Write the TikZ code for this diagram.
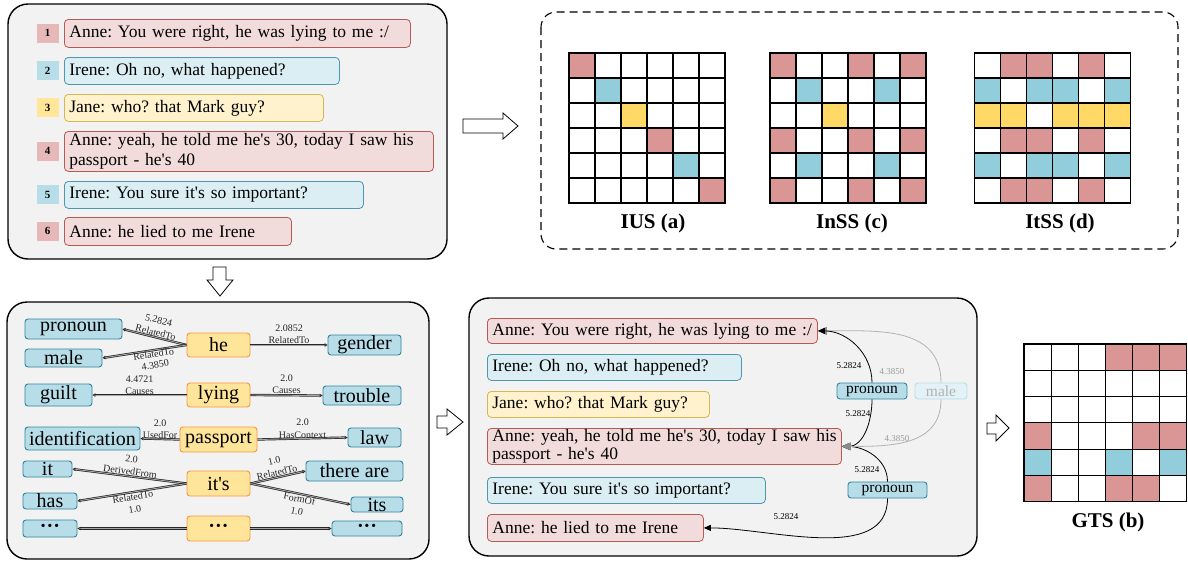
\documentclass[tikz,border=0pt]{standalone}
\usepackage{fontspec}
\setmainfont{Liberation Serif}
\usetikzlibrary{arrows.meta}
\frenchspacing
\definecolor{panelgray}{HTML}{F2F2F2}
\definecolor{mRf}{HTML}{F2DCDB}\definecolor{mRd}{HTML}{B65A56}
\definecolor{mBf}{HTML}{DAEEF3}\definecolor{mBd}{HTML}{4F97AE}
\definecolor{mYf}{HTML}{FFF2CC}\definecolor{mYd}{HTML}{D6B656}
\definecolor{nR}{HTML}{E6B9B8}\definecolor{nB}{HTML}{B7DEE8}\definecolor{nY}{HTML}{FFE699}
\definecolor{gR}{HTML}{D99694}\definecolor{gB}{HTML}{92CDDC}\definecolor{gY}{HTML}{FFD966}\definecolor{gN}{HTML}{FFFFFF}
\definecolor{cF}{HTML}{B7DDE8}\definecolor{cD}{HTML}{31859C}
\definecolor{wF}{HTML}{FFE599}\definecolor{wD}{HTML}{F79646}
\definecolor{fadeF}{HTML}{E3F2F6}\definecolor{fadeD}{HTML}{B7DDE8}
\definecolor{tipgray}{HTML}{8C8C8C}
\newcommand\ap{\textquotesingle}
\newcommand\mygrid[5]{%
 \foreach \row [count=\r from 0] in {#5} {
   \foreach \cell [count=\c from 0] in \row {
     \path[fill=g\cell, draw=black, line width=1.1pt] ({#1+\c*#3},{#2+\r*#4}) rectangle ++(#3,#4);
   }
 }}
\tikzset{
 panel/.style={fill=panelgray, draw=black, line width=1.4pt, rounded corners=20pt},
 msg/.style={rectangle, rounded corners=4pt, line width=0.8pt, anchor=north west, align=left, inner xsep=5pt, inner ysep=0pt, font=\fontsize{17.5}{20}\selectfont, minimum height=28pt},
 msgR/.style={msg, fill=mRf, draw=mRd},
 msgB/.style={msg, fill=mBf, draw=mBd},
 msgY/.style={msg, fill=mYf, draw=mYd},
 num/.style={rectangle, minimum width=22pt, minimum height=19pt, inner sep=0pt, font=\fontsize{11}{12}\selectfont\bfseries},
 concept/.style={rectangle, rounded corners=3pt, fill=cF, draw=cD, line width=0.9pt, inner sep=0pt, font=\fontsize{20}{22}\selectfont},
 word/.style={rectangle, rounded corners=3pt, fill=wF, draw=wD, line width=0.9pt, inner sep=0pt, font=\fontsize{20}{22}\selectfont},
 kedge/.style={draw=black!85, line width=0.7pt, double=black!35, double distance=0.9pt, -{Triangle[open,length=3pt,width=3.5pt]}},
 elab/.style={font=\fontsize{10}{12.5}\selectfont, align=center, inner sep=0pt, text=black!85},
 small/.style={font=\fontsize{9}{10}\selectfont, inner sep=1pt},
 cedge/.style={draw=black, line width=0.8pt, -{Triangle[length=7pt,width=6pt]}},
 gedge/.style={draw=black!30, line width=0.8pt, -{Triangle[length=9pt,width=8pt,color=tipgray,fill=tipgray]}},
 glab/.style={font=\bfseries\fontsize{21}{23}\selectfont, inner sep=0pt},
 barrow/.style={fill=white, draw=black, line width=0.8pt},
}
\begin{document}
\begin{tikzpicture}[x=1pt,y=-1pt]
\useasboundingbox (0,0) rectangle (1188,563);
% ---------- Panel 1 ----------
\draw[panel] (8,4) rectangle (447,259);
\node[num, fill=nR] (n1) at (47.5,33) {1};
\node[num, fill=nB] (n2) at (47.5,70.5) {2};
\node[num, fill=nY] (n3) at (47.5,107.5) {3};
\node[num, fill=nR] (n4) at (47.5,151) {4};
\node[num, fill=nB] (n5) at (47.5,194.5) {5};
\node[num, fill=nR] (n6) at (47.5,231) {6};
\node[msgR, text width=336pt] (a1) at (64,19) {\mbox{Anne: You were right, he was lying to me :/}};
\node[msgB, text width=265pt, minimum height=27pt] (a2) at (64,57) {\mbox{Irene: Oh no, what happened?}};
\node[msgY, text width=249pt, minimum height=27pt] (a3) at (64,94) {\mbox{Jane: who? that Mark guy?}};
\node[msgR, text width=359pt, minimum height=40pt] (a4) at (64,131) {\mbox{Anne: yeah, he told me he\ap s 30, today I saw his}\\\mbox{passport - he\ap s 40}};
\node[msgB, text width=289pt, minimum height=27pt] (a5) at (64,181) {\mbox{Irene: You sure it\ap s so important?}};
\node[msgR, text width=217pt] (a6) at (64,217) {\mbox{Anne: he lied to me Irene}};
% ---------- dashed panel with grids ----------
\draw[dash pattern=on 8pt off 5pt, line width=1.1pt, rounded corners=15pt] (541,12) rectangle (1178,249);
\mygrid{569}{53}{26}{25}{{R,N,N,N,N,N},{N,B,N,N,N,N},{N,N,Y,N,N,N},{N,N,N,R,N,N},{N,N,N,N,B,N},{N,N,N,N,N,R}}
\mygrid{770}{53}{26}{25}{{R,N,N,R,N,R},{N,B,N,N,B,N},{N,N,Y,N,N,N},{R,N,N,R,N,R},{N,B,N,N,B,N},{R,N,N,R,N,R}}
\mygrid{974.5}{53}{26}{25}{{N,R,R,N,R,N},{B,N,B,B,N,B},{Y,Y,N,Y,Y,Y},{N,R,R,N,R,N},{B,N,B,B,N,B},{N,R,R,N,R,N}}
\node[glab] (lius) at (653,223) {IUS (a)};
\node[glab] (linss) at (852,223) {InSS (c)};
\node[glab] (litss) at (1060,223) {ItSS (d)};
% ---------- GTS grid ----------
\mygrid{1024}{344}{27.1}{26.3}{{N,N,N,R,R,R},{N,N,N,N,N,N},{N,N,N,N,N,N},{R,N,N,N,R,R},{B,N,N,B,N,B},{R,N,N,R,R,N}}
\node[glab] (lgts) at (1108,522) {GTS (b)};
% ---------- block arrows ----------
\draw[barrow] (463,119)--(503,119)--(503,113)--(518,126)--(503,139)--(503,133)--(463,133)--cycle;
\draw[barrow] (213,267)--(226,267)--(226,280)--(233,280)--(220,296)--(207,280)--(213,280)--cycle;
\draw[barrow] (437,416)--(447,416)--(447,409)--(463,422)--(447,435)--(447,428)--(437,428)--cycle;
\draw[barrow] (987,423)--(996,423)--(996,415)--(1009,428)--(996,441)--(996,434)--(987,434)--cycle;
% ---------- Panel 2: knowledge graph ----------
\draw[panel] (7,302) rectangle (429,559);
\node[concept, minimum width=97pt, minimum height=20pt] (pronoun) at (73.5,329) {pronoun};
\node[concept, minimum width=77pt, minimum height=18pt] (male) at (63.5,358) {male};
\node[concept, minimum width=67pt, minimum height=22pt] (guilt) at (58.5,395) {guilt};
\node[concept, minimum width=115pt, minimum height=23pt] (ident) at (82.5,438.5) {identification};
\node[concept, minimum width=49pt, minimum height=16pt] (it) at (47.5,469) {it};
\node[concept, minimum width=54pt, minimum height=16pt] (has) at (50,501) {has};
\node[concept, minimum width=54pt, minimum height=17pt] (ldots) at (50,528.5) {\bfseries ···};
\node[word, minimum width=63pt, minimum height=24pt] (he) at (218.5,345) {he};
\node[word, minimum width=63pt, minimum height=24pt] (lying) at (218.5,395) {lying};
\node[word, minimum width=77pt, minimum height=25pt] (passport) at (218.5,439.5) {passport};
\node[word, minimum width=63pt, minimum height=25pt] (its1) at (218.5,483.5) {it\ap s};
\node[word, minimum width=63pt, minimum height=25pt] (wdots) at (218.5,528.5) {\bfseries ···};
\node[concept, minimum width=73pt, minimum height=20pt] (gender) at (364.5,345) {gender};
\node[concept, minimum width=78pt, minimum height=19pt] (trouble) at (362,395.5) {trouble};
\node[concept, minimum width=53pt, minimum height=19pt] (law) at (374.5,437.5) {law};
\node[concept, minimum width=97pt, minimum height=20pt] (there) at (354.5,471) {there are};
\node[concept, minimum width=52pt, minimum height=15pt] (its2) at (377,504.5) {its};
\node[concept, minimum width=70pt, minimum height=15pt] (rdots) at (367,528.5) {\bfseries ···};
\draw[kedge] (he.west) -- node[elab, above=1pt, sloped] {5.2824\\RelatedTo} (pronoun.east);
\draw[kedge] (he.west) -- node[elab, below=0pt, sloped, pos=0.4, font=\fontsize{10}{11}\selectfont] {RelatedTo\\4.3850} (male.east);
\draw[kedge] (lying.west) -- node[elab, above=0pt, font=\fontsize{10}{12}\selectfont] {4.4721\\Causes} (guilt.east);
\draw[kedge] (passport.west) -- node[elab, above] {2.0\\UsedFor} (ident.east);
\draw[kedge] (its1.west) -- node[elab, above=1pt, sloped] {2.0\\DerivedFrom} (it.east);
\draw[kedge] (its1.west) -- node[elab, below=1pt, sloped] {RelatedTo\\1.0} (has.east);
\draw[kedge] (wdots.west) -- node[elab, above] {...} (ldots.east);
\draw[kedge] (he.east) -- node[elab, above=1pt] {2.0852\\RelatedTo} (gender.west);
\draw[kedge] (lying.east) -- node[elab, above=1pt] {2.0\\Causes} (trouble.west);
\draw[kedge] (passport.east) -- node[elab, above] {2.0\\HasContext} (law.west);
\draw[kedge] (its1.east) -- node[elab, above=1pt, sloped] {1.0\\RelatedTo} (there.west);
\draw[kedge] (its1.east) -- node[elab, below=1pt, sloped] {FormOf\\1.0} (its2.west);
\draw[kedge] (wdots.east) -- node[elab, above] {...} (rdots.west);
% ---------- Panel 3 ----------
\draw[panel] (469,298) rectangle (977,556);
\node[msgR, text width=320pt, minimum height=25pt] (b1) at (487,318) {\mbox{Anne: You were right, he was lying to me :/}};
\node[msgB, text width=244pt, minimum height=26pt] (b2) at (487,354) {\mbox{Irene: Oh no, what happened?}};
\node[msgY, text width=212pt, minimum height=26pt] (b3) at (487,391) {\mbox{Jane: who? that Mark guy?}};
\node[msgR, text width=344pt, minimum height=36pt, font=\fontsize{17.5}{18.5}\selectfont] (b4) at (487,428) {\mbox{Anne: yeah, he told me he\ap s 30, today I saw his}\\\mbox{passport - he\ap s 40}};
\node[msgB, text width=268pt, minimum height=26pt] (b5) at (487,477) {\mbox{Irene: You sure it\ap s so important?}};
\node[msgR, text width=206pt, minimum height=27pt] (b6) at (487,514) {\mbox{Anne: he lied to me Irene}};
\node[concept, minimum width=70pt, minimum height=16pt, font=\fontsize{15.5}{17}\selectfont] (pr1) at (872,391) {pronoun};
\node[concept, fill=fadeF, draw=fadeD, text=black!30, minimum width=52pt, minimum height=16pt, font=\fontsize{15.5}{17}\selectfont] (ml) at (941,391) {male};
\node[concept, minimum width=79pt, minimum height=16pt, font=\fontsize{15.5}{17}\selectfont] (pr2) at (887.5,490) {pronoun};
\draw[cedge] (pr1.south) to[out=-90,in=0] (b4.east);
\draw[cedge] (pr2.north) to[out=90,in=0] (b4.east);
\draw[gedge] (ml.north) to[out=90,in=0,looseness=1.1] (b1.east);
\draw[gedge] (ml.south) to[out=-90,in=0,looseness=1.1] (b4.east);
\draw[cedge] (pr1.north) to[out=90,in=0] (b1.east);
\draw[cedge] (pr2.south) to[out=-90,in=0,looseness=0.9] (b6.east);
\node[small] (l1) at (849,366) {5.2824};
\node[small] (l2) at (858,414) {5.2824};
\node[small, text=black!40] (l3) at (892,372) {4.3850};
\node[small, text=black!40] (l4) at (897,439) {4.3850};
\node[small] (l5) at (867,470) {5.2824};
\node[small] (l6) at (786,517) {5.2824};
\end{tikzpicture}
\end{document}
